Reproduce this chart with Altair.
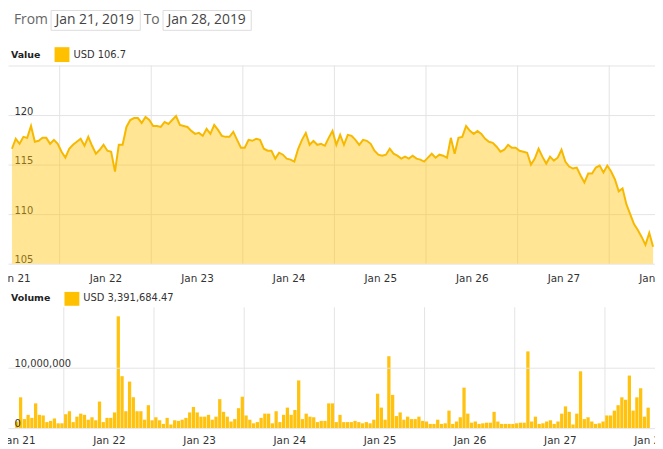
import altair as alt
import pandas as pd

# ---------------- data ----------------
price_part1 = [116.6, 117.6, 117.1, 117.8, 117.7, 118.9, 117.3, 117.4, 117.7, 117.7,
               117.1, 117.5, 117.1, 116.3, 115.7, 116.6, 117.0, 117.3, 117.6, 116.9,
               117.8, 116.9, 116.1, 116.5, 117.0, 116.4, 116.3, 114.3, 117.0, 117.0,
               118.8, 119.5, 119.7, 119.7, 119.2, 119.8, 119.5, 118.9, 118.9, 118.8,
               119.3, 119.1, 119.5, 119.9, 119.0, 118.9, 118.8, 118.4, 118.1, 118.2,
               117.9, 118.6, 118.1, 119.0, 118.5, 117.9, 117.8, 117.8]
price_part2 = [118.3, 117.5, 116.7, 116.7, 117.5, 117.4, 117.6, 117.5, 116.6, 116.4,
               116.4, 115.6, 116.2, 116.0, 115.6, 115.5, 115.3, 116.6, 117.5, 118.2,
               117.0, 117.4, 117.0, 117.1, 116.9, 117.7, 118.4, 117.0, 118.0, 117.0,
               118.0, 117.9, 117.5, 117.0, 117.5, 117.4, 117.1, 116.4, 116.0, 115.9,
               116.0, 116.6, 116.1, 115.9, 115.6, 115.8, 115.6, 115.9, 115.6, 115.5,
               115.3, 115.7, 116.1, 115.7, 116.0, 115.9, 115.7]
price_part3 = [117.7, 116.1, 117.7, 117.8, 118.9, 118.4, 118.1, 118.4, 118.1, 117.6,
               117.3, 117.2, 116.8, 116.3, 116.5, 117.0, 116.7, 116.7, 116.4, 116.3,
               116.2, 115.0, 115.6, 116.6, 115.8, 115.1, 115.8, 115.4, 115.7, 116.5,
               115.3, 114.8, 114.6, 114.7, 113.9, 113.2, 114.1, 114.1, 114.7, 114.9,
               114.2, 114.9, 114.3, 113.5, 112.3, 112.6, 111.0, 110.0, 109.0, 108.4,
               107.7, 106.9, 108.1, 106.7]

vol_m_part1 = [1.1, 5.1, 1.5, 2.2, 1.7, 4.1, 2.2, 2.1, 1.0, 1.2,
               1.6, 0.8, 0.8, 2.3, 2.8, 1.0, 1.9, 2.4, 2.2, 1.4,
               1.8, 1.3, 4.4, 1.0, 1.7, 1.7, 2.6, 18.5, 8.6, 2.8,
               7.7, 5.1, 2.8, 2.8, 1.4, 3.8, 1.3, 1.8, 1.3, 0.7,
               1.7, 0.6, 1.3, 1.2, 1.4, 1.7, 2.6, 3.5, 2.6, 1.9,
               1.9, 2.2, 1.4, 1.9, 4.8, 2.7, 1.9]
vol_m_part2 = [1.1, 1.5, 3.3, 5.2, 2.1, 1.4, 0.8, 1.0, 1.7, 2.4,
               2.4, 0.8, 2.8, 1.0, 2.2, 3.4, 2.2, 3.0, 7.9, 1.5,
               2.4, 1.9, 1.8, 1.0, 1.2, 1.2, 4.1, 4.1, 1.0, 2.2,
               1.0, 1.0, 1.0, 1.2, 1.0, 0.8, 1.0, 0.8, 1.4, 5.7,
               3.4, 1.4, 11.9, 5.5, 2.0, 2.6, 1.4, 1.9, 1.5, 1.5,
               1.9, 1.2, 1.1, 0.7, 0.7, 1.4, 0.7]
vol_m_part3 = [0.8, 2.9, 0.7, 1.1, 1.8, 6.7, 2.4, 0.9, 1.1, 0.7,
               0.8, 0.9, 0.9, 2.7, 1.1, 0.7, 0.7, 0.7, 0.7, 0.8,
               0.9, 0.9, 12.7, 1.1, 1.9, 0.7, 0.8, 1.1, 1.3, 0.7,
               1.1, 2.4, 3.6, 2.7, 0.6, 2.4, 9.4, 1.5, 1.8, 1.1,
               0.7, 0.8, 1.1, 2.1, 2.1, 2.9, 3.8, 5.1, 4.7, 8.7,
               2.9, 5.1, 6.6, 1.9, 3.39168447]

price = price_part1 + price_part2 + price_part3
volume = [round(v * 1_000_000, 2) for v in vol_m_part1 + vol_m_part2 + vol_m_part3]

first_time = "2019-01-20T23:30:00"
times = pd.date_range(first_time, periods=len(price), freq="h")
df = pd.DataFrame({
    "t": times.strftime("%Y-%m-%dT%H:%M:%SZ"),
    "price": price,
    "volume": volume,
})

label_days = [21, 22, 23, 24, 25, 26, 27, 28]
grid_days = ["2019-01-21", "2019-01-22", "2019-01-23", "2019-01-24",
             "2019-01-25", "2019-01-26", "2019-01-27"]
noon_df = pd.DataFrame({"t": [d + "T12:00:00Z" for d in grid_days]})

price_ticks = [105, 110, 115, 120, 125]
volume_ticks = [0, 10_000_000]

from_text = "Jan 21, 2019"
to_text = "Jan 28, 2019"
value_text = f"USD {price[-1]}"
volume_text = f"USD {volume[-1]:,.2f}"

# ---------------- layout ----------------
W, H = 653, 441
P_TOP, P_BOT = 56, 256
V_TOP, V_BOT = 300, 422

YELLOW = "#FFC000"
LINE = "#F7B900"
GRID = "#e4e4e4"
AXFONT = "DejaVu Sans"

xscale = alt.Scale(
    type="utc",
    domain=[alt.DateTime(year=2019, month=1, date=20, hours=22, minutes=28, utc=True),
            alt.DateTime(year=2019, month=1, date=28, hours=0, utc=True)],
)
tick_dates = [alt.DateTime(year=2019, month=1, date=d, utc=True) for d in label_days]


def x_axis(offset, pad):
    return alt.Axis(orient="bottom", offset=offset, values=tick_dates, format="%b %d",
                    labelFont=AXFONT, labelFontSize=10.5, labelColor="#333",
                    domain=False, ticks=False, grid=False, labelPadding=pad,
                    labelFlush=False, labelOverlap=False, title=None)


def y_axis(values, fmt, expr=None, off=-1, z=0):
    kw = dict(orient="left", values=values, grid=True, gridColor=GRID, domain=False,
              ticks=False, tickSize=0, labelAlign="left", labelPadding=-6,
              labelBaseline="alphabetic", labelOffset=off, labelFont=AXFONT,
              labelFontSize=10, labelColor="#333", title=None, format=fmt, zindex=z)
    if expr:
        kw["labelExpr"] = expr
    return alt.Axis(**kw)


pscale = alt.Scale(domain=[105, 125], range=[P_BOT, P_TOP], zero=False, nice=False)
vscale = alt.Scale(domain=[0, 20_000_000], range=[V_BOT, V_TOP], nice=False)

# price panel
p_base = alt.Chart(df).encode(
    x=alt.X("t:T", scale=xscale, axis=x_axis(P_BOT - H, 10)),
    y=alt.Y("price:Q", scale=pscale,
            axis=y_axis(price_ticks, "d", "datum.value == 125 ? '' : datum.label", -1)),
)
p_rules = alt.Chart(noon_df).mark_rule(color=GRID, strokeWidth=1).encode(
    x=alt.X("t:T", scale=xscale), y=alt.datum(105), y2=alt.datum(125))
p_area = p_base.mark_area(color=YELLOW, opacity=0.42).encode(y2=alt.datum(105))
p_line = p_base.mark_line(color=LINE, strokeWidth=2)
price_layer = alt.layer(p_rules, p_area, p_line)

# volume panel
v_rules = alt.Chart(noon_df).mark_rule(color=GRID, strokeWidth=1).encode(
    x=alt.X("t:T", scale=xscale), y=alt.datum(0), y2=alt.datum(20_000_000))
v_bars = alt.Chart(df).mark_bar(color="#FFC20E", width=3.3).encode(
    x=alt.X("t:T", scale=xscale, axis=x_axis(V_BOT - H, 8)),
    y=alt.Y("volume:Q", scale=vscale, axis=y_axis(volume_ticks, ",d", None, -1.5, 1)),
)
volume_layer = alt.layer(v_rules, v_bars)

# header / legend decorations
one = pd.DataFrame({"k": [0]})


def txt(s, x, y, size, color, font, weight="normal"):
    return alt.Chart(one).mark_text(text=s, align="left", baseline="middle", fontSize=size,
                                    font=font, color=color, fontWeight=weight).encode(
        x=alt.value(x), y=alt.value(y))


def box(x1, x2, y1, y2, fill, stroke=None):
    kw = dict(fill=fill)
    if stroke:
        kw.update(stroke=stroke, strokeWidth=1)
    return alt.Chart(one).mark_rect(**kw).encode(
        x=alt.value(x1), x2=alt.value(x2), y=alt.value(y1), y2=alt.value(y2))


header = [
    txt("From", 6, 10, 14, "#666", "Open Sans"),
    box(43.5, 133.5, 0.5, 20.5, "white", "#dddddd"),
    txt(from_text, 48, 10, 14, "#444", "Open Sans"),
    txt("To", 137, 10, 14, "#666", "Open Sans"),
    box(156.5, 245.5, 0.5, 20.5, "white", "#dddddd"),
    txt(to_text, 161, 10, 14, "#444", "Open Sans"),
    txt("Value", 3, 45, 9.5, "#222", AXFONT, "bold"),
    box(47, 62, 37.5, 52.5, YELLOW),
    txt(value_text, 66, 45, 10, "#333", AXFONT),
    txt("Volume", 3, 291, 9.5, "#222", AXFONT, "bold"),
    box(57, 72, 284.5, 298.5, YELLOW),
    txt(volume_text, 76, 291, 10, "#333", AXFONT),
]

chart = alt.layer(price_layer, volume_layer, *header).resolve_scale(
    x="independent", y="independent"
).resolve_axis(
    x="independent", y="independent"
).properties(
    width=W, height=H, padding=0,
    autosize=alt.AutoSizeParams(type="none"),
).configure_view(stroke=None)

chart.save("out.html", embed_options={"renderer": "svg", "actions": False})
